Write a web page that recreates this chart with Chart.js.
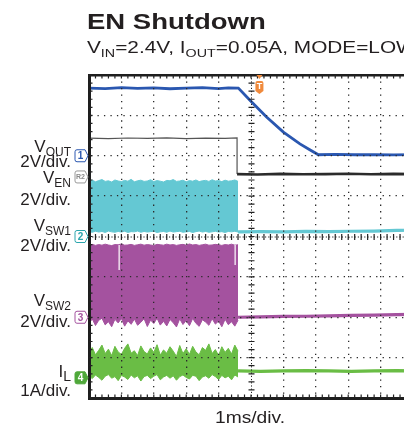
<!DOCTYPE html>
<html>
<head>
<meta charset="utf-8">
<script src="https://cdn.jsdelivr.net/npm/chart.js@4/dist/chart.umd.min.js"></script>
<style>
  html, body { margin: 0; padding: 0; background: #fff; width: 404px; height: 430px; overflow: hidden; }
  #scope { position: absolute; left: 0; top: 0; }
  .t { position: absolute; font-family: "Liberation Sans", Arial, Helvetica, sans-serif; color: #231f20; white-space: nowrap; line-height: 1; }
  .title { left: 87px; top: 11px; font-size: 22px; font-weight: bold; transform: scaleX(1.25); transform-origin: left center; }
  .subtitle { left: 87px; top: 40px; font-size: 16px; transform: scaleX(1.3); transform-origin: left center; }
  .subtitle .sub { font-size: 11px; position: relative; top: 4px; }
  .lab { left: 0; width: 71px; text-align: right; font-size: 17px; }
  .lab .sub { font-size: 12px; position: relative; top: 4px; }
  .lab .subL { font-size: 14px; position: relative; top: 4px; }
  .xlab { left: 215px; top: 410px; font-size: 16px; transform: scaleX(1.2); transform-origin: left center; }
</style>
</head>
<body>
<canvas id="scope" width="424" height="430"></canvas>

<div class="t title">EN Shutdown</div>
<div class="t subtitle">V<span class="sub">IN</span>=2.4V, I<span class="sub">OUT</span>=0.05A, MODE=LOW</div>

<div class="t lab" style="top:138px">V<span class="sub">OUT</span></div>
<div class="t lab" style="top:153px">2V/div.</div>
<div class="t lab" style="top:169px">V<span class="sub">EN</span></div>
<div class="t lab" style="top:191px">2V/div.</div>
<div class="t lab" style="top:217px">V<span class="sub">SW1</span></div>
<div class="t lab" style="top:237px">2V/div.</div>
<div class="t lab" style="top:292px">V<span class="sub">SW2</span></div>
<div class="t lab" style="top:313px">2V/div.</div>
<div class="t lab" style="top:363px">I<span class="subL">L</span></div>
<div class="t lab" style="top:382px">1A/div.</div>

<div class="t xlab">1ms/div.</div>

<script>
// Screen: 10 horizontal divisions at 1 ms/div, 8 vertical divisions
const timeRange = [-5, 5];
const divRange = [-4, 4];

// Channel ground-marker positions (div) and sensitivities (units/div)
const chOffset = { vout: 2, ven: 1.5, sw1: 0, sw2: -2, il: -3.5 };
const chScale  = { vout: 2, ven: 2,   sw1: 2, sw2: 2,  il: 1 };

// Output voltage (V) – discharges after EN goes low
const voutTimes = [-5.0, -4.5, -4.0, -3.5, -3.0, -2.5, -2.0, -1.5, -1.0, -0.7, -0.39, -0.01, 0.48, 1.0, 1.51, 1.8, 2.08, 2.6, 3.2, 3.8, 4.4, 5.0];
const voutVolts = [3.35, 3.33, 3.37, 3.34, 3.36, 3.32, 3.35, 3.37, 3.33, 3.36, 3.35, 2.71, 1.92, 1.17, 0.59, 0.31, 0.05, 0.07, 0.05, 0.06, 0.04, 0.06];

// Enable pin (V), reference trace R2
const venTimes = [-5.0, -4.4, -3.8, -3.2, -2.6, -2.0, -1.4, -0.8, -0.43, -0.43, 0.2, 0.9, 1.6, 2.3, 3.0, 3.7, 4.4, 5.0];
const venVolts = [1.87, 1.85, 1.88, 1.86, 1.89, 1.85, 1.87, 1.86, 1.88, 0.09, 0.07, 0.10, 0.08, 0.09, 0.11, 0.08, 0.10, 0.09];

// Switching burst before shutdown: envelope sampled every 0.1 ms from -5.0 to -0.4 ms
const burstTimes = Array.from({ length: 47 }, (_, i) => Math.round((-5 + i * 0.1) * 100) / 100);

const sw1High = [2.74, 2.79, 2.71, 2.77, 2.82, 2.73, 2.76, 2.70, 2.80, 2.75,
                 2.72, 2.78, 2.74, 2.83, 2.71, 2.76, 2.79, 2.73, 2.75, 2.81,
                 2.72, 2.77, 2.74, 2.70, 2.78, 2.76, 2.82, 2.73, 2.75, 2.79,
                 2.71, 2.77, 2.74, 2.80, 2.72, 2.76, 2.78, 2.73, 2.81, 2.75,
                 2.77, 2.72, 2.79, 2.74, 2.76, 2.80, 2.73];
const sw1Low  = [0.24, 0.21, 0.26, 0.22, 0.25, 0.20, 0.27, 0.23, 0.21, 0.25,
                 0.22, 0.26, 0.20, 0.24, 0.23, 0.27, 0.21, 0.25, 0.22, 0.24,
                 0.26, 0.20, 0.23, 0.25, 0.21, 0.27, 0.22, 0.24, 0.26, 0.21,
                 0.23, 0.25, 0.20, 0.24, 0.27, 0.22, 0.25, 0.21, 0.23, 0.26,
                 0.22, 0.24, 0.20, 0.25, 0.23, 0.26, 0.22];

const sw2High = [3.58, 3.61, 3.56, 3.60, 3.57, 3.62, 3.58, 3.55, 3.60, 3.59,
                 3.63, 3.57, 3.58, 3.61, 3.56, 3.59, 3.62, 3.57, 3.60, 3.58,
                 3.55, 3.61, 3.59, 3.57, 3.62, 3.58, 3.60, 3.56, 3.59, 3.61,
                 3.57, 3.63, 3.58, 3.60, 3.56, 3.59, 3.62, 3.57, 3.58, 3.61,
                 3.59, 3.56, 3.60, 3.58, 3.62, 3.57, 3.59];
const sw2Low  = [-0.32, -0.08, -0.41, -0.15, -0.05, -0.38, -0.22, -0.47, -0.10, -0.28,
                 -0.06, -0.44, -0.18, -0.35, -0.09, -0.40, -0.25, -0.07, -0.46, -0.14,
                 -0.31, -0.05, -0.39, -0.20, -0.43, -0.11, -0.27, -0.48, -0.08, -0.36,
                 -0.16, -0.42, -0.06, -0.30, -0.45, -0.12, -0.24, -0.40, -0.07, -0.34,
                 -0.19, -0.47, -0.10, -0.37, -0.22, -0.44, -0.15];

const ilPeak   = [0.62, 0.75, 0.57, 0.68, 0.81, 0.60, 0.71, 0.55, 0.78, 0.64,
                  0.58, 0.73, 0.84, 0.61, 0.67, 0.55, 0.79, 0.65, 0.59, 0.74,
                  0.63, 0.82, 0.56, 0.69, 0.61, 0.77, 0.66, 0.53, 0.80, 0.60,
                  0.72, 0.58, 0.78, 0.64, 0.57, 0.75, 0.68, 0.84, 0.60, 0.70,
                  0.55, 0.77, 0.63, 0.73, 0.59, 0.81, 0.66];
const ilValley = [0.05, -0.02, 0.07, 0.01, -0.06, 0.04, 0.08, -0.01, 0.03, -0.07,
                  0.06, 0.02, -0.04, 0.07, 0.00, 0.05, -0.08, 0.03, 0.06, -0.02,
                  0.04, 0.08, -0.05, 0.02, 0.06, -0.01, 0.05, -0.06, 0.03, 0.07,
                  0.01, -0.03, 0.06, 0.04, -0.07, 0.02, 0.05, -0.01, 0.08, 0.03,
                  -0.04, 0.06, 0.00, 0.04, -0.05, 0.07, 0.02];

// Levels after the converter stops switching
const offTimes = [-0.4, 0.3, 1.0, 1.7, 2.4, 3.1, 3.8, 4.5, 5.0];
const sw1Off = [0.23, 0.24, 0.23, 0.25, 0.24, 0.26, 0.27, 0.30, 0.31];
const sw2Off = [0.00, 0.02, 0.04, 0.05, 0.07, 0.09, 0.11, 0.13, 0.14];
const ilOff  = [0.17, 0.16, 0.17, 0.18, 0.17, 0.16, 0.17, 0.18, 0.17];

// Brief pulse dropouts visible in SW2: [time ms, top V, bottom V]
const sw2Dropouts = [[-4.07, 3.58, 2.34], [-0.49, 3.58, 2.59]];

// Trigger position (ms)
const triggerTime = 0.26;

const colors = {
  vout: '#2a57b0', ven: '#3a3a3a', sw1: '#64c8d3', sw2: '#a4529f', il: '#6abd45'
};

const toDiv = (ch, v) => chOffset[ch] + v / chScale[ch];
const pts = (times, vals, ch) => times.map((t, i) => ({ x: t, y: toDiv(ch, vals[i]) }));

const lineDs = (data, color, width, extra) => Object.assign({
  data, borderColor: color, borderWidth: width, pointRadius: 0, tension: 0, fill: false
}, extra || {});

const datasets = [];
sw2Dropouts.forEach(([t, hi, lo]) => {
  datasets.push(lineDs([{ x: t, y: toDiv('sw2', hi) }, { x: t, y: toDiv('sw2', lo) }], '#ffffff', 1.2));
});
datasets.push(lineDs(pts(voutTimes, voutVolts, 'vout'), colors.vout, 2.8));
datasets.push(lineDs(pts(venTimes, venVolts, 'ven'), colors.ven, 1.2, {
  segment: {
    borderWidth: c => (c.p0DataIndex >= 9 ? 2.6 : 1.2),
    borderColor: c => (c.p0DataIndex >= 9 ? '#2b2b2b' : '#555555')
  }
}));
// band pairs: lower envelope, then upper envelope filled down to it
[['sw1', sw1Low, sw1High, sw1Off], ['sw2', sw2Low, sw2High, sw2Off], ['il', ilValley, ilPeak, ilOff]]
  .forEach(([ch, lo, hi, off]) => {
    datasets.push(lineDs(pts(burstTimes, lo, ch), colors[ch], 1));
    datasets.push(lineDs(pts(burstTimes, hi, ch), colors[ch], 1, { fill: '-1', backgroundColor: colors[ch] }));
    datasets.push(lineDs(pts(offTimes, off, ch), colors[ch], 3.2));
  });

const isHidden = (v, lim) => v === 0 || Math.abs(v) === lim;

// Scope decorations: centre graticule, border ticks, channel and trigger markers
const scopeOverlay = {
  id: 'scopeOverlay',
  afterDraw(chart) {
    const { ctx, chartArea: a, scales: { x, y } } = chart;
    const x0 = x.getPixelForValue(0), y0 = y.getPixelForValue(0);
    const minorX = [], minorY = [];
    for (let v = timeRange[0]; v <= timeRange[1] + 1e-9; v += 0.2) minorX.push(x.getPixelForValue(v));
    for (let v = divRange[0]; v <= divRange[1] + 1e-9; v += 0.2) minorY.push(y.getPixelForValue(v));
    ctx.save();
    ctx.strokeStyle = '#222';
    ctx.lineWidth = 1;
    ctx.setLineDash([1.2, 2.0]);
    ctx.beginPath();
    ctx.moveTo(x0 + 0.5, a.top); ctx.lineTo(x0 + 0.5, a.bottom);
    ctx.moveTo(a.left, y0 + 0.5); ctx.lineTo(a.right, y0 + 0.5);
    ctx.stroke();
    ctx.setLineDash([]);
    ctx.lineWidth = 1.2;
    ctx.beginPath();
    minorY.forEach(py => { ctx.moveTo(x0 - 2.5, py); ctx.lineTo(x0 + 3.5, py); });
    minorX.forEach(px => { ctx.moveTo(px, y0 - 2.5); ctx.lineTo(px, y0 + 3.5); });
    minorX.forEach(px => {
      ctx.moveTo(px, a.top); ctx.lineTo(px, a.top + 3.5);
      ctx.moveTo(px, a.bottom); ctx.lineTo(px, a.bottom - 3.5);
    });
    minorY.forEach(py => { ctx.moveTo(a.left, py); ctx.lineTo(a.left + 3.5, py); });
    ctx.stroke();

    // channel ground markers
    const markers = [
      { ch: 'vout', label: '1', stroke: colors.vout, fill: '#fff', text: colors.vout, font: 'bold 10px "Liberation Sans", Arial' },
      { ch: 'ven', label: 'R2', stroke: '#9a9a9a', fill: '#fff', text: '#8a8a8a', font: 'bold 7px "Liberation Sans", Arial', dy: 1 },
      { ch: 'sw1', label: '2', stroke: '#2aa5ad', fill: '#fff', text: '#2aa5ad', font: 'bold 10px "Liberation Sans", Arial' },
      { ch: 'sw2', label: '3', stroke: colors.sw2, fill: '#fff', text: colors.sw2, font: 'bold 10px "Liberation Sans", Arial' },
      { ch: 'il', label: '4', stroke: '#4fa83a', fill: '#4fa83a', text: '#fff', font: 'bold 10px "Liberation Sans", Arial' }
    ];
    markers.forEach(m => {
      const cy = y.getPixelForValue(chOffset[m.ch]) + (m.dy || 0);
      const tip = a.left - 1, r = tip - 3, l = tip - 13, t = cy - 6, b = cy + 6;
      ctx.beginPath();
      ctx.moveTo(l + 2, t); ctx.lineTo(r, t); ctx.lineTo(tip, cy); ctx.lineTo(r, b); ctx.lineTo(l + 2, b);
      ctx.quadraticCurveTo(l, b, l, b - 2); ctx.lineTo(l, t + 2); ctx.quadraticCurveTo(l, t, l + 2, t);
      ctx.closePath();
      ctx.fillStyle = m.fill; ctx.fill();
      ctx.lineWidth = 1; ctx.strokeStyle = m.stroke; ctx.stroke();
      ctx.fillStyle = m.text; ctx.font = m.font;
      ctx.textAlign = 'center'; ctx.textBaseline = 'middle';
      ctx.fillText(m.label, (l + r) / 2 + 0.5, cy + 0.5);
    });

    // trigger marker
    const tx = x.getPixelForValue(triggerTime);
    ctx.fillStyle = '#f08a3c';
    ctx.beginPath();
    ctx.moveTo(tx - 3, a.top); ctx.lineTo(tx + 3, a.top); ctx.lineTo(tx, a.top + 4); ctx.closePath();
    ctx.fill();
    ctx.beginPath();
    const bl = tx - 4, br = tx + 4, bt = a.top + 6, bb = a.top + 19;
    ctx.moveTo(bl + 2, bt); ctx.lineTo(br - 2, bt); ctx.quadraticCurveTo(br, bt, br, bt + 2);
    ctx.lineTo(br, bb - 3); ctx.lineTo(tx, bb); ctx.lineTo(bl, bb - 3);
    ctx.lineTo(bl, bt + 2); ctx.quadraticCurveTo(bl, bt, bl + 2, bt);
    ctx.closePath(); ctx.fill();
    ctx.fillStyle = '#fff'; ctx.font = 'bold 9px "Liberation Sans", Arial';
    ctx.textAlign = 'center'; ctx.textBaseline = 'middle';
    ctx.fillText('T', tx, bt + 6);
    ctx.restore();
  }
};

new Chart(document.getElementById('scope'), {
  type: 'line',
  data: { datasets },
  plugins: [scopeOverlay],
  options: {
    responsive: false,
    animation: false,
    layout: { padding: { left: 89, top: 75, right: 11, bottom: 32 } },
    plugins: { legend: { display: false }, tooltip: { enabled: false } },
    elements: { point: { radius: 0 } },
    scales: {
      x: {
        type: 'linear', position: 'bottom', min: timeRange[0], max: timeRange[1],
        ticks: { display: false, stepSize: 1 },
        grid: {
          z: 1, drawTicks: false, lineWidth: 1.3,
          color: c => (c.tick && isHidden(c.tick.value, 5) ? 'rgba(0,0,0,0)' : '#2a2a2a')
        },
        border: { display: true, color: '#1e1e1e', width: 3, z: 2, dash: [1.3, 5.18] },
        afterFit: s => { s.height = 0; }
      },
      xTop: {
        type: 'linear', position: 'top', min: timeRange[0], max: timeRange[1],
        ticks: { display: false },
        grid: { display: false },
        border: { display: true, color: '#1e1e1e', width: 2.5, z: 2 },
        afterFit: s => { s.height = 0; }
      },
      y: {
        type: 'linear', position: 'left', min: divRange[0], max: divRange[1],
        ticks: { display: false, stepSize: 1 },
        grid: {
          z: 1, drawTicks: false, lineWidth: 1.3,
          color: c => (c.tick && isHidden(c.tick.value, 4) ? 'rgba(0,0,0,0)' : '#2a2a2a')
        },
        border: { display: true, color: '#1e1e1e', width: 3, z: 2, dash: [1.3, 5.18] },
        afterFit: s => { s.width = 0; }
      }
    }
  }
});
</script>
</body>
</html>
